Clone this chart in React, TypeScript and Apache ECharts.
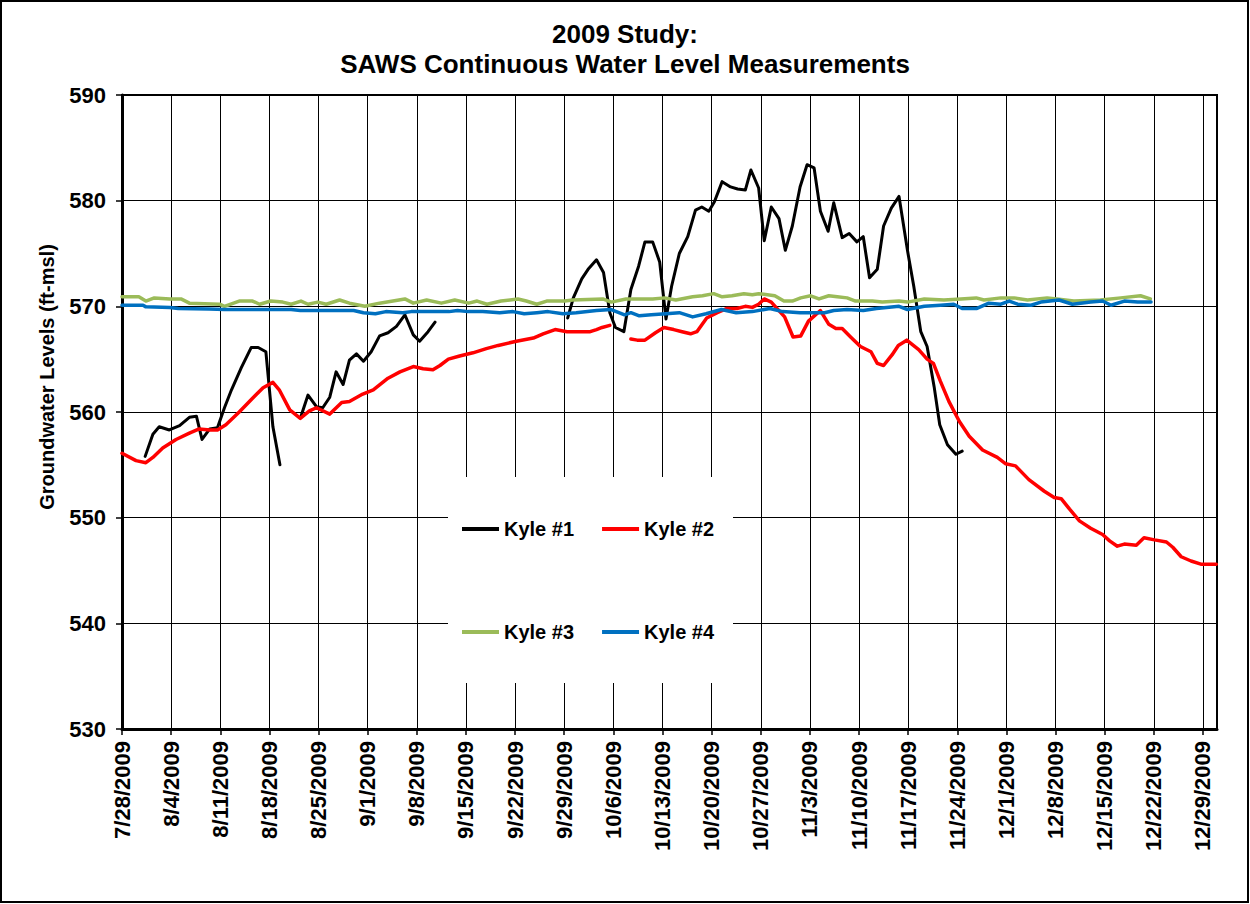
import React, { useEffect, useRef } from "react";
import * as echarts from "echarts";

// x values: days since 7/28/2009
const START = { y: 2009, m: 7, d: 28 };
const X_MAX_DAYS = 156;
const Y_MIN = 530;
const Y_MAX = 590;

const kyle1Seg1: number[][] = [
  [3.3, 555.8], [4.4, 557.9], [5.3, 558.6], [6.75, 558.3], [8.2, 558.7], [9.6, 559.5], [10.6, 559.6],
  [11.4, 557.4], [12.5, 558.4], [13.6, 558.5], [14.6, 560.4], [15.6, 562.1], [17, 564.2], [18.4, 566.1],
  [19.4, 566.1], [20.5, 565.7], [21.5, 558.6], [22.5, 555.0],
];
const kyle1Seg2: number[][] = [
  [25.5, 559.6], [26.5, 561.6], [27.7, 560.5], [28.6, 560.4], [29.6, 561.4], [30.5, 563.8], [31.5, 562.6],
  [32.4, 564.9], [33.4, 565.5], [34.4, 564.8], [35.5, 565.7], [36.7, 567.2], [37.9, 567.5], [39.1, 568.1],
  [40.3, 569.2], [41.5, 567.3], [42.4, 566.7], [43.6, 567.6], [44.6, 568.5],
];
const kyle1Seg3: number[][] = [
  [63.5, 568.9], [64.3, 570.8], [65.5, 572.6], [66.4, 573.5], [67.6, 574.4], [68.6, 573.2], [69.5, 569.4],
  [70.3, 568.0], [71.5, 567.6], [72.5, 571.6], [73.6, 573.8], [74.5, 576.1], [75.6, 576.1], [76.6, 574.2],
  [77.5, 568.8], [78.3, 571.9], [79.4, 575.0], [80.6, 576.6], [81.7, 579.1], [82.6, 579.4], [83.6, 579.0],
  [84.4, 579.9], [85.5, 581.8], [86.7, 581.3], [87.7, 581.1], [88.8, 581.0], [89.6, 582.9], [90.7, 581.2],
  [91.5, 576.2], [92.5, 579.4], [93.6, 578.3], [94.5, 575.3], [95.5, 577.6], [96.6, 581.3], [97.6, 583.4],
  [98.6, 583.1], [99.5, 579.0], [100.6, 577.1], [101.4, 579.8], [102.6, 576.5], [103.6, 576.9], [104.7, 576.1],
  [105.6, 576.6], [106.5, 572.7], [107.6, 573.5], [108.5, 577.6], [109.6, 579.3], [110.7, 580.4], [111.9, 575.3],
  [112.8, 571.9], [113.8, 567.6], [114.7, 566.2], [115.7, 562.4], [116.5, 558.8], [117.6, 556.9], [118.8, 556.0],
  [119.7, 556.3],
];

const kyle2Seg1: number[][] = [
  [0, 556.1], [2, 555.4], [3.4, 555.2], [4.4, 555.7], [5.8, 556.6], [7.7, 557.4], [9.6, 558.0], [11, 558.4],
  [12.5, 558.3], [13.6, 558.3], [14.8, 558.8], [16.7, 560.0], [18.6, 561.3], [20.1, 562.3], [21.5, 562.8],
  [22.4, 562.1], [23.9, 560.2], [25.4, 559.4], [26.7, 560.1], [27.7, 560.4], [29.6, 559.8], [31.3, 560.9],
  [32.4, 561.0], [34.3, 561.7], [35.8, 562.1], [37.9, 563.2], [39.6, 563.8], [41.5, 564.3], [42.9, 564.1],
  [44.3, 564.0], [45.3, 564.4], [46.5, 565.0], [48.1, 565.3], [50.0, 565.6], [51.9, 566.0], [53.6, 566.3],
  [56.2, 566.7], [58.6, 567.0], [60, 567.4], [61.7, 567.8], [63.4, 567.6], [66.7, 567.6], [67.6, 567.8],
  [68.4, 568.0], [69.5, 568.2],
];
const kyle2Seg2: number[][] = [
  [72.5, 566.9], [73.4, 566.8], [74.5, 566.8], [76, 567.5], [77.2, 568.0], [78.6, 567.8], [79.8, 567.6],
  [81, 567.4], [81.9, 567.6], [83.3, 568.9], [84.8, 569.4], [86.2, 569.8], [87.6, 569.8], [88.8, 570.0],
  [89.8, 569.9], [90.7, 570.2], [91.5, 570.7], [92.5, 570.4], [93.3, 569.8], [94.4, 569.0], [95.6, 567.1],
  [96.7, 567.2], [97.8, 568.6], [99.5, 569.6], [100.7, 568.3], [101.7, 567.9], [102.6, 567.9], [103.8, 567.1],
  [105.2, 566.2], [106.7, 565.7], [107.6, 564.6], [108.5, 564.4], [109.7, 565.4], [110.6, 566.3], [111.8, 566.8],
  [113.5, 565.9], [114.7, 565.0], [115.6, 564.6], [116.6, 562.9], [117.8, 561.0], [119.3, 559.1], [120.7, 557.7],
  [122.6, 556.4], [124.7, 555.7], [125.9, 555.1], [127.3, 554.9], [129.2, 553.6], [131.4, 552.5], [132.8, 551.9],
  [133.8, 551.8], [135, 550.8], [136.4, 549.7], [138, 549.0], [139.7, 548.4], [140.7, 547.8], [141.8, 547.3],
  [142.8, 547.5], [144.5, 547.4], [145.6, 548.1], [147.1, 547.9], [148.8, 547.7], [149.7, 547.2], [150.9, 546.3],
  [152.3, 545.9], [153.7, 545.6], [155.9, 545.6],
];

const kyle3: number[][] = [
  [0, 570.9], [2.4, 570.9], [3.4, 570.5], [4.6, 570.8], [6.8, 570.7], [8.4, 570.7], [9.6, 570.3], [13.9, 570.2],
  [14.6, 570.0], [16.7, 570.5], [18.6, 570.5], [19.6, 570.2], [21.2, 570.5], [22.9, 570.4], [24.1, 570.2],
  [25.5, 570.5], [26.5, 570.2], [27.9, 570.4], [29.1, 570.2], [31.0, 570.6], [32.4, 570.3], [34.6, 570.0],
  [36.7, 570.3], [38.6, 570.5], [40.3, 570.7], [41.5, 570.3], [43.4, 570.6], [45.5, 570.3], [47.4, 570.6],
  [49.4, 570.3], [50.6, 570.5], [52.0, 570.2], [54.0, 570.5], [56.4, 570.7], [57.6, 570.5], [59.1, 570.2],
  [60.5, 570.5], [63.1, 570.5], [64.2, 570.6], [68.5, 570.7], [69.7, 570.4], [71.8, 570.7], [75.6, 570.7],
  [77.3, 570.8], [78.9, 570.6], [81.3, 570.9], [82.7, 571.0], [84.3, 571.2], [85.5, 570.9], [86.9, 571.0],
  [88.6, 571.2], [89.8, 571.1], [90.7, 571.2], [93, 571.0], [94.3, 570.5], [95.5, 570.5], [96.7, 570.8],
  [98.1, 571.0], [99.3, 570.7], [100.7, 571.0], [101.9, 570.9], [103.3, 570.8], [104.5, 570.5], [106.9, 570.5],
  [108.3, 570.4], [110.7, 570.5], [111.9, 570.4], [114.3, 570.7], [117.1, 570.6], [119.5, 570.7], [121.7, 570.8],
  [122.8, 570.6], [125.2, 570.8], [127.1, 570.8], [129, 570.6], [131.8, 570.8], [133.2, 570.7], [135.6, 570.5],
  [139.4, 570.6], [142.3, 570.8], [145.1, 571.0], [146.5, 570.7],
];

const kyle4: number[][] = [
  [0, 570.1], [3, 570.1], [3.4, 569.95], [6.8, 569.9], [8, 569.8], [12.4, 569.75], [14.6, 569.7], [24.1, 569.7],
  [25.4, 569.6], [33, 569.6], [34.4, 569.4], [36.1, 569.3], [37.6, 569.5], [40, 569.4], [41.2, 569.5],
  [46.6, 569.5], [47.8, 569.6], [49.3, 569.5], [51.4, 569.5], [53.8, 569.4], [55.7, 569.5], [57.3, 569.3],
  [59.1, 569.4], [60.7, 569.5], [62.8, 569.3], [64.7, 569.4], [67.6, 569.6], [69.7, 569.7], [71.6, 569.2],
  [72.5, 569.4], [73.7, 569.1], [75.4, 569.2], [77.5, 569.3], [79.4, 569.4], [81.3, 569.0], [83.2, 569.3],
  [85.4, 569.7], [87.5, 569.4], [89.8, 569.5], [92.3, 569.8], [94.1, 569.5], [96.6, 569.4], [100.1, 569.4],
  [101.4, 569.6], [103.3, 569.7], [105.6, 569.6], [107.5, 569.8], [110.7, 570.0], [111.9, 569.7], [114.3, 570.0],
  [116.6, 570.1], [118.5, 570.2], [119.7, 569.8], [121.8, 569.8], [123.5, 570.3], [125.2, 570.2], [126.4, 570.5],
  [127.6, 570.2], [129.5, 570.1], [130.9, 570.4], [133.5, 570.6], [135.4, 570.2], [138.0, 570.4], [139.7, 570.5],
  [140.9, 570.1], [142.8, 570.5], [144.7, 570.4], [146.6, 570.4],
];

const SERIES_NAMES = ["Kyle #1", "Kyle #2", "Kyle #3", "Kyle #4"];
const SERIES_COLORS = ["#000000", "#FF0000", "#9BBB59", "#0070C0"];
const TITLE_LINES = ["2009 Study:", "SAWS Continuous Water Level Measurements"];
const Y_TITLE = "Groundwater Levels (ft-msl)";

const FONT = '"Liberation Sans", Arial, sans-serif';
const GAP: any[] = [["-", "-"]];

function joinSegments(...segs: number[][][]): any[] {
  const out: any[] = [];
  segs.forEach((s, i) => {
    if (i > 0) out.push(...GAP);
    out.push(...s);
  });
  return out;
}

function dayLabel(v: number): string {
  const dt = new Date(START.y, START.m - 1, START.d + Math.round(v));
  return `${dt.getMonth() + 1}/${dt.getDate()}/${dt.getFullYear()}`;
}

export default function App() {
  const ref = useRef<HTMLDivElement>(null);
  useEffect(() => {
    if (!ref.current) return;
    const chart = echarts.init(ref.current, null, { renderer: "svg" });
    const legendText = { fontSize: 20, fontWeight: "bold" as const, fontFamily: FONT, color: "#000" };
    const dataSets = [
      joinSegments(kyle1Seg1, kyle1Seg2, kyle1Seg3),
      joinSegments(kyle2Seg1, kyle2Seg2),
      kyle3,
      kyle4,
    ];
    const widths = [3, 3.5, 3.5, 3.5];
    const legendBase = {
      left: 462,
      padding: 0,
      icon: "rect",
      itemWidth: 37,
      itemHeight: 4,
      itemGap: 28,
      textStyle: legendText,
      z: 10,
    };
    chart.setOption({
      animation: false,
      backgroundColor: "#fff",
      title: {
        text: TITLE_LINES.join("\n"),
        left: "center",
        top: 14,
        textStyle: { fontSize: 26, fontWeight: "bold", fontFamily: FONT, color: "#000", lineHeight: 30 },
      },
      grid: {
        left: 122,
        right: 33,
        top: 95,
        bottom: 175,
        show: true,
        borderColor: "#000",
        borderWidth: 2,
        backgroundColor: "transparent",
      },
      legend: [
        { ...legendBase, data: SERIES_NAMES.slice(0, 2), top: 519 },
        { ...legendBase, data: SERIES_NAMES.slice(2, 4), top: 622 },
      ],
      xAxis: {
        type: "value",
        min: 0,
        max: X_MAX_DAYS,
        interval: 7,
        axisLine: { show: true, onZero: false, lineStyle: { color: "#000", width: 3 } },
        axisTick: { show: true, length: 6, lineStyle: { color: "#000", width: 1.5 } },
        splitLine: { show: true, lineStyle: { color: "#000", width: 1 } },
        axisLabel: {
          rotate: 90,
          margin: 12,
          showMaxLabel: false,
          formatter: (v: number) => dayLabel(v),
          fontSize: 22,
          fontWeight: "bold",
          fontFamily: FONT,
          color: "#000",
        },
      },
      yAxis: {
        type: "value",
        min: Y_MIN,
        max: Y_MAX,
        interval: 10,
        axisLine: { show: true, lineStyle: { color: "#000", width: 3 } },
        axisTick: { show: true, length: 6, lineStyle: { color: "#000", width: 1.5 } },
        splitLine: { show: true, lineStyle: { color: "#000", width: 1 } },
        axisLabel: {
          margin: 16,
          fontSize: 22,
          fontWeight: "bold",
          fontFamily: FONT,
          color: "#000",
        },
      },
      graphic: [
        {
          type: "rect",
          shape: { x: 1, y: 1, width: 1247, height: 901 },
          style: { fill: "none", stroke: "#000", lineWidth: 2 },
          z: 100,
          silent: true,
        },
        {
          type: "rect",
          shape: { x: 448, y: 477, width: 285, height: 206 },
          style: { fill: "#fff" },
          z: 5,
          silent: true,
        },
        {
          type: "text",
          x: 47,
          y: 377,
          rotation: Math.PI / 2,
          style: {
            text: Y_TITLE,
            font: `bold 20px ${FONT}`,
            fill: "#000",
            textAlign: "center",
            textVerticalAlign: "middle",
          },
          z: 10,
        },
      ],
      series: SERIES_NAMES.map((name, i) => ({
        name,
        type: "line",
        data: dataSets[i],
        symbol: "none",
        showSymbol: false,
        connectNulls: false,
        color: SERIES_COLORS[i],
        lineStyle: { color: SERIES_COLORS[i], width: widths[i], join: "round", cap: "round" },
        z: 2 + i,
      })),
    });
    return () => chart.dispose();
  }, []);
  return (
    <div
      ref={ref}
      style={{ position: "fixed", left: 0, top: 0, width: 1250, height: 904, background: "#fff" }}
    />
  );
}
